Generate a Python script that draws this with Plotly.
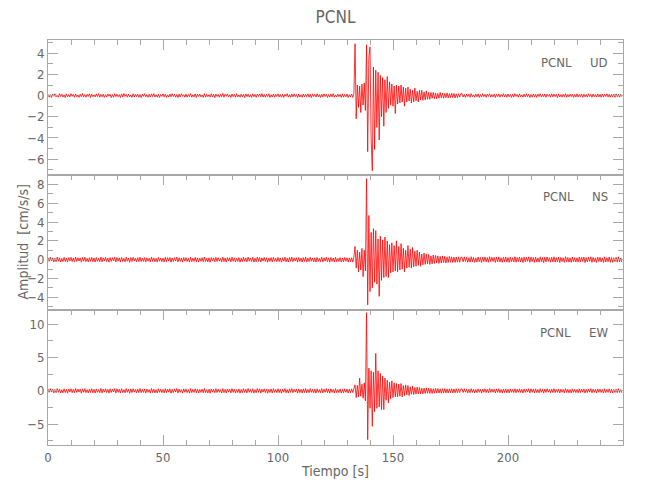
import numpy as np
import plotly.graph_objects as go
from plotly.subplots import make_subplots

# ---------------- data ----------------
# one sample every 0.5 s from 0 to 249.5 s; each trace = pre-event + event + coda lists
DT = 0.5

ud_pre = [
.12,-.15,.08,-.18,.14,-.06,.17,-.12,.05,-.16,.19,-.09,.13,-.14,.07,-.19,.16,-.11,.10,-.13,
.18,-.07,.11,-.16,.15,-.12,.06,-.17,.13,-.10,.20,-.14,.09,-.15,.12,-.08,.17,-.18,.14,-.11,
.07,-.13,.16,-.09,.19,-.15,.11,-.12,.14,-.17,.08,-.14,.15,-.06,.12,-.19,.10,-.16,.18,-.10,
.13,-.11,.09,-.18,.16,-.13,.20,-.08,.11,-.15,.14,-.12,.06,-.17,.17,-.14,.12,-.09,.15,-.16,
.10,-.19,.14,-.07,.18,-.12,.09,-.16,.13,-.14,.16,-.10,.19,-.13,.08,-.15,.12,-.18,.11,-.08,
.16,-.12,.13,-.17,.07,-.14,.15,-.11,.18,-.09,.12,-.16,.10,-.19,.14,-.13,.17,-.07,.09,-.15,
.14,-.16,.11,-.10,.19,-.15,.08,-.13,.16,-.18,.13,-.08,.15,-.12,.06,-.17,.18,-.14,.12,-.11,
.09,-.14,.17,-.13,.12,-.19,.15,-.09,.10,-.16,.14,-.11,.20,-.15,.13,-.07,.16,-.12,.08,-.18,
.15,-.10,.12,-.16,.18,-.13,.07,-.15,.14,-.12,.11,-.19,.16,-.09,.13,-.14,.09,-.17,.17,-.11,
.11,-.17,.14,-.08,.16,-.12,.19,-.14,.10,-.15,.13,-.10,.17,-.18,.08,-.13,.15,-.16,.12,-.09,
.17,-.13,.10,-.15,.13,-.18,.12,-.07,.18,-.14,.09,-.16,.14,-.12,.16,-.10,.11,-.19,.15,-.14,
.08,-.16,.15,-.12,.11,-.10,.17,-.15,.13,-.19,.16,-.08,.12,-.14,.18,-.11,.10,-.17,.14,-.13,
.16,-.09,.13,-.18,.10,-.14,.15,-.12,.19,-.16,.07,-.13,.14,-.10,.12,-.17,.17,-.15,.11,-.12,
.14,-.18,.09,-.13,
]
ud_evt = [
.15,-.18,.2,4.9,-2.2,1.0,-1.1,.9,-1.6,1.1,-.9,1.2,-1.4,4.8,-5.3,3.6,
4.6,-4.2,-7.1,2.7,-5.1,2.4,-3.0,2.2,-4.2,1.9,-2.0,1.7,-2.9,1.5,-1.6,1.8,
-1.2,1.3,-.9,1.1,-1.0,.9,-1.7,1.0,-.8,.9,-.7,1.0,-.6,.8,-1.0,.7,
-.6,.8,-.5,.6,-.7,.5,-.6,.7,-.5,.4,-.6,.5,-.4,.5,-.45,.35,
-.4,.45,-.35,.3,-.35,.3,-.25,.3,-.3,.25,-.3,.2,-.25,.3,-.2,.25,
-.25,.2,-.2,.25,-.22,.18,-.2,.22,-.18,.2,-.22,.17,-.2,.18,-.15,.2,
]
ud_post = [
.17,-.14,.11,-.18,.15,-.09,.13,-.16,.19,-.12,.08,-.15,.14,-.11,.16,-.17,.10,-.13,.18,-.10,
.12,-.16,.15,-.08,.17,-.14,.09,-.12,.14,-.18,.13,-.10,.16,-.15,.11,-.09,.18,-.13,.12,-.16,
.15,-.11,.10,-.17,.13,-.14,.19,-.08,.11,-.15,.16,-.12,.08,-.16,.14,-.13,.17,-.10,.13,-.18,
.09,-.15,.16,-.12,.12,-.17,.14,-.09,.18,-.14,.10,-.11,.15,-.16,.13,-.08,.11,-.15,.17,-.12,
.14,-.10,.12,-.18,.16,-.13,.09,-.15,.13,-.11,.18,-.16,.11,-.12,.15,-.09,.14,-.17,.10,-.14,
.16,-.13,.11,-.10,.14,-.17,.13,-.12,.10,-.15,.17,-.09,.12,-.16,.15,-.11,.09,-.14,.16,-.13,
.11,-.16,.15,-.12,.13,-.09,.17,-.14,.12,-.15,.10,-.13,.14,-.17,.16,-.10,.12,-.15,.13,-.11,
]

ns_pre = [
.21,-.18,.26,-.14,.19,-.24,.15,-.22,.27,-.17,.20,-.25,.13,-.21,.24,-.19,.17,-.26,.22,-.15,
.25,-.20,.16,-.23,.28,-.18,.21,-.14,.19,-.27,.23,-.16,.26,-.21,.14,-.24,.20,-.19,.25,-.22,
.18,-.25,.22,-.17,.15,-.21,.27,-.23,.20,-.15,.24,-.20,.17,-.26,.23,-.18,.21,-.13,.26,-.24,
.23,-.16,.19,-.25,.24,-.20,.14,-.22,.26,-.17,.18,-.28,.22,-.19,.25,-.15,.16,-.23,.21,-.20,
.27,-.21,.17,-.18,.22,-.26,.20,-.16,.15,-.24,.28,-.19,.19,-.22,.14,-.25,.24,-.17,.18,-.21,
.16,-.23,.25,-.20,.21,-.15,.23,-.27,.18,-.19,.22,-.14,.27,-.24,.20,-.18,.15,-.26,.23,-.16,
.22,-.19,.14,-.26,.26,-.21,.17,-.18,.24,-.23,.19,-.25,.16,-.17,.21,-.22,.28,-.20,.14,-.24,
.19,-.27,.23,-.15,.18,-.22,.25,-.19,.21,-.16,.13,-.24,.26,-.21,.17,-.25,.22,-.14,.20,-.23,
.26,-.17,.20,-.24,.15,-.19,.22,-.26,.16,-.21,.25,-.18,.19,-.23,.27,-.16,.18,-.20,.24,-.25,
.15,-.22,.27,-.18,.23,-.25,.19,-.14,.24,-.20,.21,-.27,.17,-.19,.22,-.24,.25,-.17,.16,-.21,
.24,-.20,.18,-.26,.20,-.16,.26,-.22,.15,-.25,.23,-.18,.28,-.21,.19,-.15,.21,-.26,.22,-.19,
.17,-.24,.22,-.19,.27,-.23,.16,-.20,.25,-.17,.18,-.22,.20,-.26,.24,-.18,.14,-.21,.26,-.23,
.20,-.16,.25,-.21,.19,-.27,.23,-.18,.17,-.24,.26,-.20,.15,-.19,.22,-.25,.18,-.22,.24,-.17,
.21,-.25,.19,-.22,
]
ns_evt = [
.2,-.25,.3,1.4,-.9,1.0,-1.3,.8,-1.1,1.2,-1.8,1.0,-1.2,8.6,-4.8,4.7,
-3.4,2.9,-3.0,3.3,-2.4,3.1,-2.6,2.2,-3.9,2.5,-2.2,2.1,-1.9,2.4,-1.8,2.0,
-1.9,1.6,-1.4,1.8,-1.3,1.5,-1.2,2.0,-1.3,1.4,-1.1,1.7,-1.0,1.2,-1.3,1.0,
-.9,1.5,-.8,1.1,-.9,1.3,-.75,.9,-.7,1.0,-.6,.8,-.7,.6,-.55,.7,
-.5,.6,-.45,.55,-.5,.4,-.45,.5,-.4,.45,-.35,.4,-.4,.35,-.35,.4,
-.3,.35,-.35,.3,-.3,.35,-.28,.3,-.3,.26,-.3,.28,-.25,.3,-.28,.25,
]
ns_post = [
.27,-.23,.30,-.19,.25,-.28,.21,-.26,.31,-.22,.24,-.29,.19,-.25,.28,-.21,.23,-.30,.26,-.20,
.29,-.24,.22,-.27,.32,-.21,.25,-.19,.24,-.30,.27,-.22,.30,-.25,.20,-.28,.25,-.23,.29,-.26,
.23,-.29,.26,-.21,.20,-.25,.31,-.27,.24,-.20,.28,-.24,.22,-.30,.27,-.22,.25,-.18,.30,-.28,
.27,-.20,.23,-.29,.28,-.24,.19,-.26,.30,-.21,.22,-.31,.26,-.23,.29,-.19,.21,-.27,.25,-.24,
.31,-.25,.21,-.22,.26,-.30,.24,-.20,.20,-.28,.32,-.23,.23,-.26,.19,-.29,.28,-.21,.22,-.25,
.20,-.27,.29,-.24,.25,-.19,.27,-.31,.22,-.23,.26,-.18,.31,-.28,.24,-.22,.19,-.30,.27,-.20,
.26,-.23,.19,-.30,.30,-.25,.21,-.22,.28,-.27,.23,-.29,.20,-.21,.25,-.26,.31,-.24,.18,-.28,
]

ew_pre = [
.28,-.22,.33,-.18,.25,-.31,.20,-.27,.35,-.21,.26,-.32,.17,-.28,.31,-.24,.22,-.34,.29,-.19,
.32,-.26,.21,-.30,.36,-.23,.27,-.18,.25,-.35,.30,-.21,.34,-.27,.18,-.31,.26,-.24,.33,-.29,
.23,-.33,.29,-.22,.19,-.27,.35,-.30,.26,-.19,.31,-.26,.22,-.34,.30,-.23,.27,-.17,.34,-.31,
.30,-.21,.24,-.33,.31,-.26,.18,-.29,.34,-.22,.23,-.36,.29,-.25,.32,-.19,.21,-.30,.27,-.26,
.35,-.27,.22,-.23,.29,-.34,.26,-.21,.19,-.31,.36,-.25,.25,-.29,.18,-.33,.31,-.22,.23,-.27,
.21,-.30,.33,-.26,.27,-.19,.30,-.35,.23,-.25,.29,-.18,.35,-.31,.26,-.23,.19,-.34,.30,-.21,
.29,-.25,.18,-.34,.34,-.27,.22,-.23,.31,-.30,.25,-.33,.21,-.22,.27,-.29,.36,-.26,.18,-.31,
.25,-.35,.30,-.19,.23,-.29,.33,-.25,.27,-.21,.17,-.31,.34,-.27,.22,-.33,.29,-.18,.26,-.30,
.34,-.22,.26,-.31,.19,-.25,.29,-.34,.21,-.27,.33,-.23,.25,-.30,.35,-.21,.23,-.26,.31,-.33,
.19,-.29,.35,-.23,.30,-.33,.25,-.18,.31,-.26,.27,-.35,.22,-.25,.29,-.31,.33,-.22,.21,-.27,
.31,-.26,.23,-.34,.26,-.21,.34,-.29,.19,-.33,.30,-.23,.36,-.27,.25,-.19,.27,-.34,.29,-.25,
.22,-.31,.29,-.25,.35,-.30,.21,-.26,.33,-.22,.23,-.29,.26,-.34,.31,-.23,.18,-.27,.34,-.30,
.26,-.21,.33,-.27,.25,-.35,.30,-.23,.22,-.31,.34,-.26,.19,-.25,.29,-.33,.23,-.29,.31,-.22,
.27,-.33,.25,-.29,
]
ew_evt = [
.3,-.25,.35,.9,-1.0,.8,-.9,1.9,-.8,1.0,-1.1,1.2,-1.5,11.7,-7.3,3.4,
-2.6,3.0,-5.3,2.8,-3.1,5.6,-2.6,3.0,-2.4,2.6,-2.8,2.2,-2.8,1.9,-1.4,1.6,
-1.8,1.3,-1.2,1.5,-1.0,1.2,-.9,1.1,-.9,1.0,-.8,1.1,-.9,.8,-.7,.9,
-.6,.8,-.7,.6,-.5,.7,-.55,.5,-.5,.55,-.45,.5,-.45,.4,-.45,.4,
-.4,.45,-.35,.4,-.38,.35,-.4,.32,-.35,.38,-.3,.35,-.33,.3,-.35,.32,
-.3,.33,-.3,.28,-.32,.3,-.28,.32,-.3,.27,-.3,.31,-.28,.3,-.26,.3,
]
ew_post = [
.29,-.24,.32,-.20,.26,-.30,.22,-.27,.33,-.23,.25,-.31,.20,-.26,.30,-.22,.24,-.32,.28,-.21,
.31,-.25,.23,-.29,.34,-.22,.27,-.20,.25,-.32,.29,-.23,.32,-.27,.21,-.30,.26,-.24,.31,-.28,
.24,-.31,.28,-.22,.21,-.26,.33,-.29,.25,-.21,.30,-.25,.23,-.32,.29,-.23,.26,-.19,.32,-.30,
.29,-.21,.24,-.31,.30,-.25,.20,-.28,.32,-.22,.23,-.33,.27,-.24,.31,-.20,.22,-.29,.26,-.25,
.33,-.26,.22,-.23,.28,-.32,.25,-.21,.21,-.30,.34,-.24,.24,-.28,.20,-.31,.30,-.22,.23,-.26,
.21,-.29,.31,-.25,.26,-.20,.29,-.33,.23,-.24,.28,-.19,.33,-.30,.25,-.23,.20,-.32,.29,-.21,
.27,-.24,.20,-.32,.32,-.26,.22,-.23,.30,-.29,.24,-.31,.21,-.22,.26,-.28,.33,-.25,.19,-.30,
]

components = ["UD", "NS", "EW"]
station = "PCNL"
x_ticks = [0, 50, 100, 150, 200]

series = {
    "UD": ud_pre + ud_evt + ud_post,
    "NS": ns_pre + ns_evt + ns_post,
    "EW": ew_pre + ew_evt + ew_post,
}
n = len(series["UD"])
for k, v in series.items():
    if len(v) != n:
        raise ValueError(f"{k}: {len(v)} values vs {n}")
t = DT * np.arange(n)

# ---------------- figure ----------------
FONT = "Liberation Sans Narrow, DejaVu Sans Condensed, Liberation Sans, sans-serif"
TXT = "#666666"
AX = "#a8a8a8"

fig = make_subplots(rows=3, cols=1, shared_xaxes=True, vertical_spacing=0)

for i, comp in enumerate(components, start=1):
    fig.add_trace(go.Scatter(x=t, y=series[comp], mode="lines",
                             line=dict(color="#ff0000", width=0.8),
                             showlegend=False, hoverinfo="skip"), row=i, col=1)

yranges = {"UD": [-7.5, 5.25], "NS": [-5.35, 9.0], "EW": [-8.1, 12.1]}
ydticks = {"UD": 2, "NS": 2, "EW": 5}
yminor = {"UD": 1, "NS": 1, "EW": 2.5}

for i, comp in enumerate(components, start=1):
    fig.update_yaxes(row=i, col=1, range=yranges[comp], dtick=ydticks[comp], tick0=0,
                     automargin=False,
                     showline=True, linecolor=AX, linewidth=1, mirror="ticks",
                     ticks="inside", ticklen=10, tickcolor=AX, tickwidth=1,
                     minor=dict(dtick=yminor[comp], tick0=0, ticks="inside", ticklen=5,
                                tickcolor=AX, tickwidth=1, showgrid=False),
                     showgrid=False, zeroline=False,
                     tickfont=dict(family=FONT, size=13, color=TXT))
    common_x = dict(range=[0, 250], tickvals=x_ticks, automargin=False,
                    showline=True, linecolor=AX, linewidth=1,
                    ticks="inside", ticklen=10, tickcolor=AX, tickwidth=1,
                    minor=dict(dtick=10, tick0=0, ticks="inside", ticklen=5,
                               tickcolor=AX, tickwidth=1, showgrid=False),
                    showgrid=False, zeroline=False,
                    tickfont=dict(family=FONT, size=13, color=TXT))
    if i < 3:
        fig.update_xaxes(row=i, col=1, side="top", mirror=True, showticklabels=False, **common_x)
    else:
        fig.update_xaxes(row=i, col=1, mirror="ticks", showticklabels=True,
                         title=dict(text="Tiempo [s]", font=dict(family=FONT, size=14, color=TXT),
                                    standoff=2), **common_x)

# component labels
for i, comp in enumerate(components):
    ytop = 1 - i / 3
    fig.add_annotation(xref="paper", yref="paper", x=1, y=ytop, xshift=-13, yshift=-22,
                       xanchor="right", yanchor="middle", showarrow=False,
                       text=f"{station}\u00a0\u00a0\u00a0\u00a0\u00a0{comp}",
                       font=dict(family=FONT, size=13, color=TXT))

# y title
fig.add_annotation(xref="paper", yref="paper", x=0, y=0.5, xshift=-26, textangle=-90,
                   xanchor="center", yanchor="middle", showarrow=False,
                   text="Amplitud  [cm/s/s]", font=dict(family=FONT, size=14, color=TXT))

fig.update_layout(
    width=650, height=500,
    margin=dict(l=48, r=27, t=40, b=55),
    paper_bgcolor="white", plot_bgcolor="white",
    title=dict(text=station, x=0.5, xref="paper", y=1 - 17 / 500, yanchor="middle",
               font=dict(family=FONT, size=17, color=TXT)),
)

# remove the page's default body margin so the figure sits at the window's top-left corner
fig.write_html("out.html", config={"displayModeBar": False},
               post_script="document.body.style.margin='0';")
